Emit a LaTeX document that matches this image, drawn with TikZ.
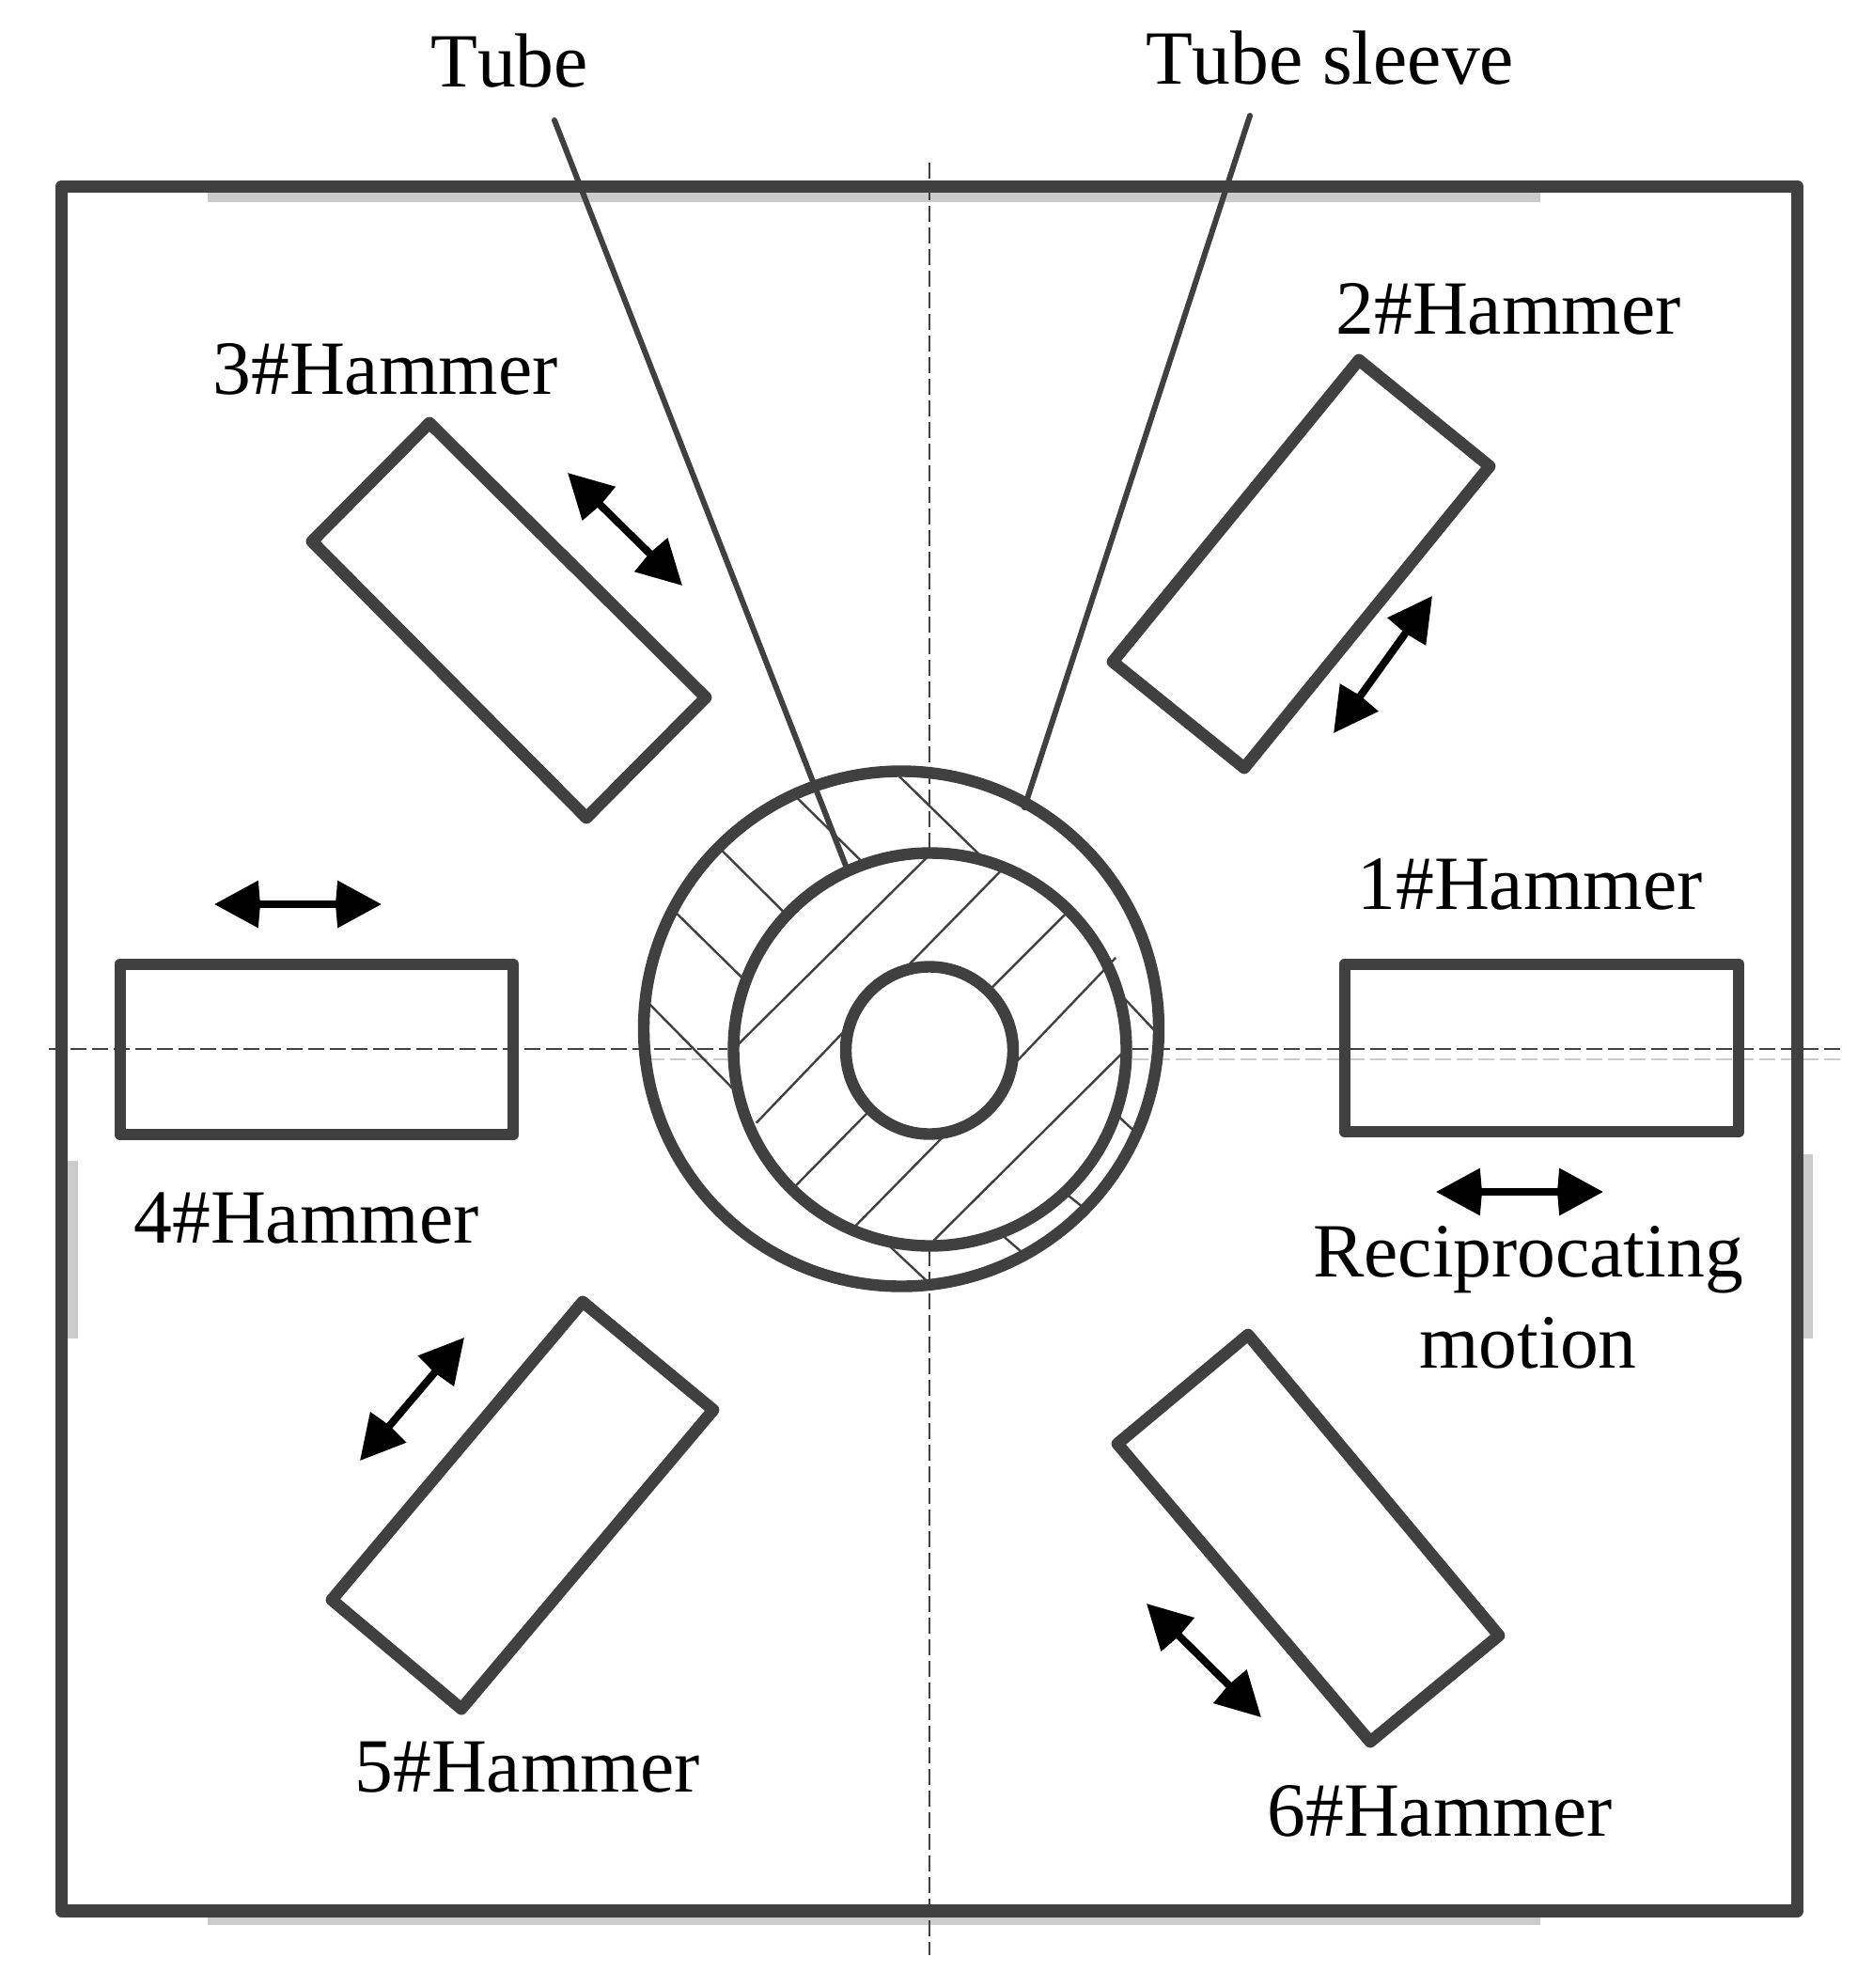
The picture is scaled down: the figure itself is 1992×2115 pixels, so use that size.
\documentclass[tikz,border=0pt]{standalone}
\usepackage{fontspec}
\setmainfont[Kerning=Off]{Liberation Serif}
\usetikzlibrary{arrows.meta}
\definecolor{ink}{HTML}{404040}
\definecolor{ghost}{HTML}{CBCBCB}
\tikzset{
  px/.style={x=0.5pt,y=-0.5pt},
  frameline/.style={draw=ink,line width=6.8pt,line join=round},
  hammer/.style={draw=ink,line width=6.4pt,line join=round},
  ring/.style={draw=ink,line width=6.2pt},
  hatch/.style={draw=ink,line width=1.2pt,shorten <=-1pt,shorten >=-1pt},
  leader/.style={draw=ink,line width=3pt,line cap=round},
  centre/.style={draw=ink,line width=1.3pt,dash pattern=on 8.5pt off 3pt},
  ghostdash/.style={draw=ghost,line width=1.3pt,dash pattern=on 8.5pt off 3pt},
  shadow/.style={fill=ghost,draw=none},
  motion/.style={draw=black,fill=black,line width=4pt,{Stealth[length=23pt,width=24pt,inset=-1.5pt]}-{Stealth[length=23pt,width=24pt,inset=-1.5pt]}},
  lab/.style={anchor=base,inner sep=0pt,text=black,font=\fontsize{40.8}{48}\selectfont},
}
\begin{document}
\begin{tikzpicture}[px]
\useasboundingbox (0,0) rectangle (1992,2115);
\fill[white] (0,0) rectangle (1992,2115);
% shadow bars
\fill[shadow] (221,205) rectangle (1639,215);
\fill[shadow] (221,2038) rectangle (1639,2048);
\fill[shadow] (72,1235) rectangle (83,1424);
\fill[shadow] (1919,1228) rectangle (1929,1424);
% ghost centre line
\draw[ghostdash] (690,1127) -- (775,1127);
\draw[ghostdash] (1205,1127) -- (1960,1127);
% centre lines
\draw[centre] (52,1116) -- (774,1116);
\draw[centre] (1205,1116) -- (1958,1116);
\draw[centre] (989,173) -- (989,902);
\draw[centre] (989,1330) -- (989,2080);
% frame
\draw[frameline] (65.5,198.5) rectangle (1912.5,2033);
% hatching, given in the 620 px crop
\begin{scope}[shift={(650,780)},x=0.1977pt,y=-0.1977pt]
\draw[hatch] (780,120)--(990,325);
\draw[hatch] (505,178)--(670,340);
\draw[hatch] (298,315)--(462,478);
\draw[hatch] (177,485)--(350,655);
\draw[hatch] (105,730)--(322,950);
\draw[hatch] (1385,717)--(1463,800);
\draw[hatch] (1370,1035)--(1408,1070);
\draw[hatch] (1232,1245)--(1266,1272);
\draw[hatch] (1058,1355)--(1102,1393);
\draw[hatch] (750,1380)--(848,1472);
\draw[hatch] (342,838)--(845,340);
\draw[hatch] (805,620)--(1045,375);
\draw[hatch] (1028,682)--(1222,488);
\draw[hatch] (1097,878)--(1355,608);
\draw[hatch] (395,1045)--(625,805);
\draw[hatch] (500,1215)--(690,1022);
\draw[hatch] (662,1322)--(890,1090);
\draw[hatch] (872,1362)--(1372,865);
\end{scope}
% rings
\draw[ring] (959,1094.5) circle[radius=274];
\draw[ring] (989.5,1116.5) circle[radius=209];
\draw[ring] (989,1117.5) circle[radius=89];
% hammers
\draw[hammer] (1431,1026) rectangle (1850,1204);
\draw[hammer] (128,1026) rectangle (546,1207);
\draw[hammer] (1446,383)--(1585,496)--(1324,817)--(1184,704)--cycle;
\draw[hammer] (457,450)--(751,742)--(624,870)--(332,576)--cycle;
\draw[hammer] (620,1385)--(759,1500)--(491,1818)--(353,1702)--cycle;
\draw[hammer] (1328,1420)--(1595,1740)--(1458,1853)--(1189,1536)--cycle;
% labels
\node[lab] (tube) at (542,92) {Tube};
\node[lab] (sleeve) at (1415,89) {Tube sleeve};
\node[lab] (h2) at (1605,355) {2\#Hammer};
\node[lab] (h3) at (410,419) {3\#Hammer};
\node[lab] (h1) at (1628,967) {1\#Hammer};
\node[lab] (h4) at (326,1322) {4\#Hammer};
\node[lab] (rec) at (1626,1358) {Reciprocating};
\node[lab] (mot) at (1626,1455) {motion};
\node[lab] (h5) at (561,1906) {5\#Hammer};
\node[lab] (h6) at (1532,1953) {6\#Hammer};
% leaders
\coordinate (tubeTop) at (590,128);
\coordinate (tubeEnd) at (900,921);
\coordinate (sleeveTop) at (1330,123);
\coordinate (sleeveEnd) at (1090,859);
\draw[leader] (tubeTop) -- (tubeEnd);
\draw[leader] (sleeveTop) -- (sleeveEnd);
% motion arrows
\coordinate (a1a) at (1528,1268); \coordinate (a1b) at (1706,1268);
\coordinate (a4a) at (228,962);   \coordinate (a4b) at (406,962);
\coordinate (a2a) at (1524,634);  \coordinate (a2b) at (1419,780);
\coordinate (a3a) at (604,503);   \coordinate (a3b) at (726,623);
\coordinate (a5a) at (494,1423);  \coordinate (a5b) at (383,1554);
\coordinate (a6a) at (1220,1706); \coordinate (a6b) at (1342,1827);
\foreach \p/\q in {a1a/a1b,a4a/a4b,a2a/a2b,a3a/a3b,a5a/a5b,a6a/a6b}
  \draw[motion] (\p) -- (\q);
\end{tikzpicture}
\end{document}
